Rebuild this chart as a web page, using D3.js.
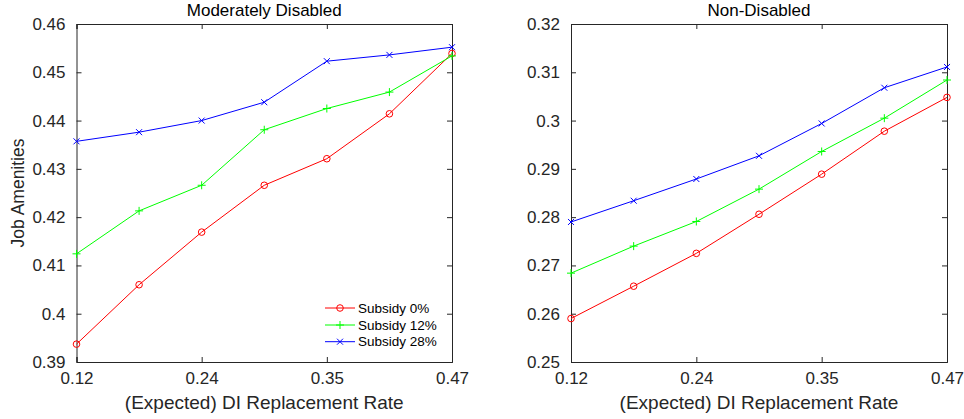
<!DOCTYPE html>
<html><head><meta charset="utf-8">
<script src="https://cdn.jsdelivr.net/npm/d3@7"></script>
<style>body{margin:0;background:#fff;} svg{display:block;font-family:"Liberation Sans",Arial,sans-serif;}</style>
</head><body>
<svg id="c" width="964" height="419"></svg>
<script>
// x values (evenly spaced replacement rates)
const xValues = [2/17, 3/17, 4/17, 5/17, 6/17, 7/17, 8/17];
const xTickValues = [2/17, 4/17, 6/17, 8/17];
const xTickLabels = ["0.12", "0.24", "0.35", "0.47"];
const seriesNames = ["Subsidy 0%", "Subsidy 12%", "Subsidy 28%"];
const seriesColors = ["#ff0000", "#00ff00", "#0000ff"];
const seriesMarkers = ["circle", "plus", "cross"];

// Moderately Disabled
const modTitle = "Moderately Disabled";
const modYTicks = [0.39, 0.40, 0.41, 0.42, 0.43, 0.44, 0.45, 0.46];
const modYTickLabels = ["0.39", "0.4", "0.41", "0.42", "0.43", "0.44", "0.45", "0.46"];
const modSub0 = [0.3937, 0.4060, 0.4169, 0.4266, 0.4321, 0.4414, 0.4539];
const modSub12 = [0.4124, 0.4213, 0.4266, 0.4381, 0.4425, 0.4459, 0.4534];
const modSub28 = [0.4357, 0.4376, 0.4400, 0.4438, 0.4523, 0.4536, 0.4552];

// Non-Disabled
const nonTitle = "Non-Disabled";
const nonYTicks = [0.25, 0.26, 0.27, 0.28, 0.29, 0.30, 0.31, 0.32];
const nonYTickLabels = ["0.25", "0.26", "0.27", "0.28", "0.29", "0.3", "0.31", "0.32"];
const nonSub0 = [0.2590, 0.2657, 0.2725, 0.2806, 0.2889, 0.2978, 0.3048];
const nonSub12 = [0.2684, 0.2740, 0.2791, 0.2858, 0.2936, 0.3005, 0.3084];
const nonSub28 = [0.2790, 0.2834, 0.2879, 0.2927, 0.2994, 0.3068, 0.3111];

const svg = d3.select("#c");
const axisColor = "#262626";

function drawMarker(g, type, x, y, color) {
  if (type === "circle") {
    g.append("circle").attr("cx", x).attr("cy", y).attr("r", 3.3)
      .attr("fill", "none").attr("stroke", color).attr("stroke-width", 1);
  } else if (type === "plus") {
    const s = 4;
    g.append("path").attr("d", `M${x-s},${y}H${x+s}M${x},${y-s}V${y+s}`)
      .attr("stroke", color).attr("stroke-width", 1);
  } else {
    const s = 3;
    g.append("path").attr("d", `M${x-s},${y-s}L${x+s},${y+s}M${x-s},${y+s}L${x+s},${y-s}`)
      .attr("stroke", color).attr("stroke-width", 1);
  }
}

function panel(opts) {
  const {x0, x1, y0, y1, yTicks, yTickLabels, title, series, yLabel, legend} = opts;
  const x = d3.scaleLinear().domain([xValues[0], xValues[xValues.length-1]]).range([x0, x1]);
  const y = d3.scaleLinear().domain([yTicks[0], yTicks[yTicks.length-1]]).range([y1, y0]);
  const g = svg.append("g");
  const tl = 5;
  const xb = d3.axisBottom(x).tickValues(xTickValues).tickFormat((d,i)=>xTickLabels[i]).tickSize(-tl).tickPadding(10);
  const gx = g.append("g").attr("transform", `translate(0,${y1})`).call(xb);
  const xt = d3.axisTop(x).tickValues(xTickValues).tickFormat("").tickSize(-tl);
  const gxt = g.append("g").attr("transform", `translate(0,${y0})`).call(xt);
  const yl = d3.axisLeft(y).tickValues(yTicks).tickFormat((d,i)=>yTickLabels[i]).tickSize(-tl).tickPadding(11);
  const gy = g.append("g").attr("transform", `translate(${x0},0)`).call(yl);
  const yr = d3.axisRight(y).tickValues(yTicks).tickFormat("").tickSize(-tl);
  const gyr = g.append("g").attr("transform", `translate(${x1},0)`).call(yr);
  [gx, gxt, gy, gyr].forEach(a => {
    a.select(".domain").attr("stroke", axisColor).attr("stroke-width", 1);
    a.selectAll(".tick line").attr("stroke", axisColor).attr("stroke-width", 1);
    a.selectAll("text").attr("fill", axisColor).style("font-size", "17px").style("font-family", '"Liberation Sans",Arial,sans-serif');
  });
  gx.selectAll("text").attr("dy", "0.71em");
  const line = d3.line().x((d,i)=>x(xValues[i])).y(d=>y(d));
  series.forEach((s, k) => {
    g.append("path").datum(s).attr("d", line).attr("fill", "none")
      .attr("stroke", seriesColors[k]).attr("stroke-width", 1);
    s.forEach((v, i) => drawMarker(g, seriesMarkers[k], x(xValues[i]), y(v), seriesColors[k]));
  });
  g.append("text").attr("x", (x0+x1)/2).attr("y", 16).attr("text-anchor", "middle")
    .attr("fill", "#000").style("font-size", "17px").text(title);
  g.append("text").attr("x", (x0+x1)/2).attr("y", 409).attr("text-anchor", "middle")
    .attr("fill", axisColor).style("font-size", "19px").text("(Expected) DI Replacement Rate");
  if (yLabel) {
    g.append("text").attr("transform", `translate(24,${(y0+y1)/2}) rotate(-90)`)
      .attr("text-anchor", "middle").attr("fill", axisColor).style("font-size", "17.5px").text(yLabel);
  }
  if (legend) {
    const lx = 325, ly = [308, 325, 341.7];
    seriesNames.forEach((n, k) => {
      g.append("line").attr("x1", lx).attr("x2", lx+30).attr("y1", ly[k]).attr("y2", ly[k])
        .attr("stroke", seriesColors[k]).attr("stroke-width", 1);
      drawMarker(g, seriesMarkers[k], lx+15, ly[k], seriesColors[k]);
      g.append("text").attr("x", lx+33).attr("y", ly[k]).attr("dy", "0.35em")
        .attr("fill", "#000").style("font-size", "13.5px").text(n);
    });
  }
}

panel({x0: 76.5, x1: 452, y0: 24, y1: 362, yTicks: modYTicks, yTickLabels: modYTickLabels,
  title: modTitle, series: [modSub0, modSub12, modSub28], yLabel: "Job Amenities", legend: true});
panel({x0: 571, x1: 947, y0: 24, y1: 362, yTicks: nonYTicks, yTickLabels: nonYTickLabels,
  title: nonTitle, series: [nonSub0, nonSub12, nonSub28], yLabel: null, legend: false});
</script>
</body></html>
